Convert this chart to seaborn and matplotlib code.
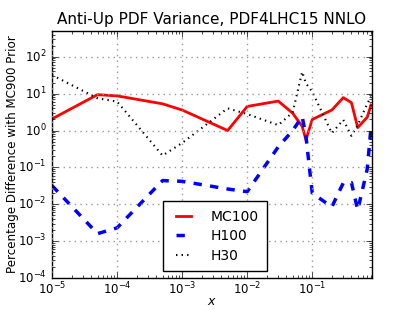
import numpy as np
import pandas as pd
import matplotlib
matplotlib.use('Agg')
import matplotlib.pyplot as plt
import seaborn as sns

# x grid and percentage differences
x = [1e-5, 5e-5, 1e-4, 5e-4, 1e-3, 5e-3, 1e-2, 3e-2, 5e-2, 7e-2, 8e-2,
     0.1, 0.2, 0.3, 0.4, 0.5, 0.7, 0.8]
mc100 = [2.07, 9.4, 8.7, 5.3, 3.6, 1.0, 4.5, 6.3, 2.95, 1.3, 0.56,
         2.0, 3.6, 7.8, 5.7, 1.2, 2.3, 4.9]
h100 = [0.032, 0.0016, 0.0023, 0.044, 0.042, 0.026, 0.022, 0.36, 1.0, 2.4, 0.7,
        0.020, 0.0085, 0.038, 0.039, 0.0070, 0.09, 1.2]
h30 = [32, 7.5, 6.1, 0.21, 0.46, 4.0, 2.8, 1.4, 3.1, 39, 19,
       11.3, 0.85, 1.95, 0.72, 1.4, 5.3, 8.3]

labels = ['MC100', 'H100', 'H30']
series = [mc100, h100, h30]

df = pd.concat([pd.DataFrame({'x': x, 'val': s, 'set': lab})
                for lab, s in zip(labels, series)])

plt.style.use('classic')
plt.rcParams['font.family'] = ['DejaVu Sans']
plt.rcParams['mathtext.fontset'] = 'dejavusans'

fig, ax = plt.subplots(figsize=(4.13, 3.1), dpi=100)
fig.subplots_adjust(left=0.126, right=0.9, top=0.9, bottom=0.103)

styles = {'MC100': dict(color='red', ls='-', lw=2),
          'H100': dict(color='blue', ls='--', lw=2.5),
          'H30': dict(color='black', ls=':', lw=1.5)}
for lab in labels:
    st = styles[lab]
    sns.lineplot(data=df[df['set'] == lab], x='x', y='val', ax=ax,
                 color=st['color'], linestyle=st['ls'], linewidth=st['lw'],
                 label=lab, estimator=None, sort=False)

ax.set_xscale('log')
ax.set_yscale('log')
ax.set_xlim(1e-5, 0.82)
ax.set_ylim(1e-4, 5e2)
ax.grid(True, which='major', color='0.6', linestyle=':', linewidth=1)
ax.set_title('Anti-Up PDF Variance, PDF4LHC15 NNLO', fontsize=11)
ax.set_xlabel('$x$', fontsize=9, labelpad=-2)
ax.set_ylabel('Percentage Difference with MC900 Prior', fontsize=8.6, labelpad=-1)
ax.tick_params(labelsize=8.5)
ax.tick_params(axis='x', pad=2)
ax.legend(loc='lower center', fontsize=10, handlelength=1.7, handletextpad=1.1,
          borderpad=0.6, labelspacing=0.4, bbox_to_anchor=(0.51, 0.0))

fig.savefig('out.png', dpi=100)
